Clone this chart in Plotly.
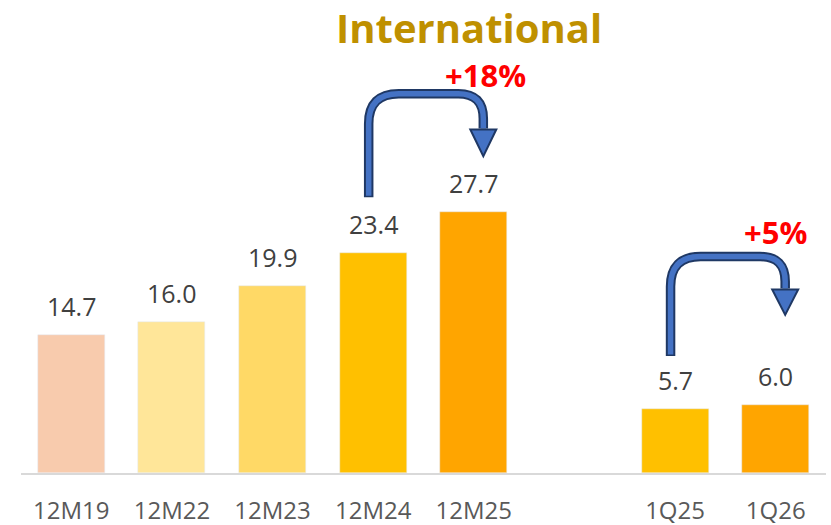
import plotly.graph_objects as go

# Annual totals and quarterly totals (International)
annual_labels = ["12M19", "12M22", "12M23", "12M24", "12M25"]
annual_values = [14.7, 16.0, 19.9, 23.4, 27.7]
annual_colors = ["#F8CBAD", "#FFE699", "#FFD966", "#FFC000", "#FFA500"]

quarter_labels = ["1Q25", "1Q26"]
quarter_values = [5.7, 6.0]
quarter_colors = ["#FFC000", "#FFA500"]

growth_labels = ["+18%", "+5%"]

# slot positions on the x axis (one empty slot separates the two groups)
annual_x = [0, 1, 2, 3, 4]
quarter_x = [6, 7]

W, H = 831, 525
M = dict(l=21, r=5, t=40, b=52)
X_RANGE = [-0.5, 7.5]
Y1_RANGE = [0, 46.0]   # annual scale
Y2_RANGE = [0, 38.3]   # quarterly scale

plot_w = W - M["l"] - M["r"]
plot_h = H - M["t"] - M["b"]
px_x = plot_w / (X_RANGE[1] - X_RANGE[0])     # pixels per x unit
px_y = plot_h / (Y1_RANGE[1] - Y1_RANGE[0])   # pixels per y1 unit

FONT = "Open Sans"
BAR_W = 0.665

fig = go.Figure()
fig.add_trace(go.Bar(x=annual_x, y=annual_values, marker_color=annual_colors,
                     width=BAR_W, yaxis="y", hoverinfo="x+y"))
fig.add_trace(go.Bar(x=quarter_x, y=quarter_values, marker_color=quarter_colors,
                     width=BAR_W, yaxis="y2", hoverinfo="x+y"))

# value labels above each bar
annotations = []
for xv, v in zip(annual_x, annual_values):
    annotations.append(dict(x=xv, y=v, xref="x", yref="y", text=f"{v:.1f}",
                            showarrow=False, yanchor="bottom", yshift=10,
                            font=dict(family=FONT, size=25, color="#404040")))
for xv, v in zip(quarter_x, quarter_values):
    annotations.append(dict(x=xv, y=v, xref="x", yref="y2", text=f"{v:.1f}",
                            showarrow=False, yanchor="bottom", yshift=10,
                            font=dict(family=FONT, size=25, color="#404040")))

# title
annotations.append(dict(x=(469 - M["l"]) / plot_w, y=1 + (M["t"] - 27) / plot_h,
                        xref="paper", yref="paper", text="<b>International</b>",
                        showarrow=False, xanchor="center", yanchor="middle",
                        font=dict(family=FONT, size=40, color="#BF9000")))

# growth arrows: (start slot, end slot, shaft bottom, top, head base, tip, label pos)
arrows = [
    dict(x0=annual_x[3], x1=annual_x[4], bottom=29.45, top=40.3, base=36.5, tip=33.65,
         label=growth_labels[0], lx=annual_x[4] + 0.12, ly=42.3),
    dict(x0=quarter_x[0], x1=quarter_x[1], bottom=12.6, top=23.0, base=19.5, tip=16.8,
         label=growth_labels[1], lx=quarter_x[1], ly=25.6),
]

shapes = []
rx_l, ry_l = 30 / px_x, 30 / px_y
rx_r, ry_r = 25 / px_x, 25 / px_y
head_hw = 13 / px_x
for a in arrows:
    xa = a["x0"] - 4.5 / px_x
    xb = a["x1"] + 9.5 / px_x
    top = a["top"]
    body = (f"M {xa},{a['bottom']} L {xa},{top - ry_l} Q {xa},{top} {xa + rx_l},{top} "
            f"L {xb - rx_r},{top} Q {xb},{top} {xb},{top - ry_r} L {xb},{a['base'] + 0.1}")
    outline = (f"M {xa},{a['bottom'] - 1.5 / px_y} L {xa},{top - ry_l} Q {xa},{top} {xa + rx_l},{top} "
               f"L {xb - rx_r},{top} Q {xb},{top} {xb},{top - ry_r} L {xb},{a['base'] + 0.1}")
    shapes.append(dict(type="path", path=outline, xref="x", yref="y",
                       line=dict(color="#1F3864", width=9.5), layer="above"))
    shapes.append(dict(type="path", path=body, xref="x", yref="y",
                       line=dict(color="#4472C4", width=5.5), layer="above"))
    head = (f"M {xb - head_hw},{a['base']} L {xb + head_hw},{a['base']} "
            f"L {xb},{a['tip']} Z")
    shapes.append(dict(type="path", path=head, xref="x", yref="y",
                       fillcolor="#4472C4", line=dict(color="#1F3864", width=2),
                       layer="above"))
    annotations.append(dict(x=a["lx"], y=a["ly"], xref="x", yref="y",
                            text=f"<b>{a['label']}</b>", showarrow=False,
                            xanchor="center", yanchor="middle",
                            font=dict(family=FONT, size=31, color="#FF0000")))

fig.update_layout(
    width=W, height=H, margin=M,
    paper_bgcolor="white", plot_bgcolor="white",
    showlegend=False, bargap=0,
    font=dict(family=FONT, color="#595959"),
    xaxis=dict(range=X_RANGE, tickmode="array",
               tickvals=annual_x + quarter_x,
               ticktext=annual_labels + quarter_labels,
               tickfont=dict(family=FONT, size=24, color="#595959"),
               showgrid=False, zeroline=False, showline=True, automargin=False,
               linecolor="#D9D9D9", linewidth=2, ticks="", ticklabelstandoff=15),
    yaxis=dict(range=Y1_RANGE, visible=False, showgrid=False, zeroline=False,
               automargin=False),
    yaxis2=dict(range=Y2_RANGE, overlaying="y", visible=False,
                showgrid=False, zeroline=False, automargin=False),
    annotations=annotations,
    shapes=shapes,
)

fig.write_html("out.html")
